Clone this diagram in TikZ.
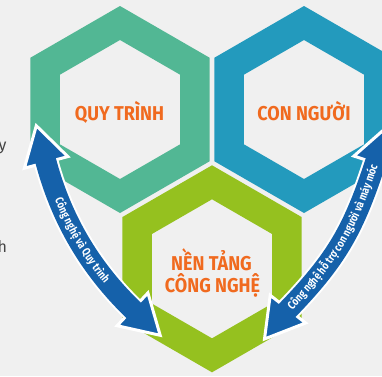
\documentclass[tikz,border=0pt]{standalone}
\usepackage{fontspec}
\setmainfont{Fira Sans}
\newfontfamily\labfont{Fira Sans}[FakeStretch=0.9]
\newfontfamily\arrfont{Fira Sans}[FakeStretch=0.8]
\usetikzlibrary{calc,decorations.text}
\definecolor{bgc}{HTML}{F0F0F0}
\definecolor{hgreen}{HTML}{52B794}
\definecolor{hblue}{HTML}{239ABD}
\definecolor{hlime}{HTML}{95C11F}
\definecolor{labor}{HTML}{F06A1F}
\definecolor{arrblue}{HTML}{1561AA}
\definecolor{sidegray}{HTML}{444444}
\tikzset{
  hexring/.pic={\fill[#1,even odd rule]
    (90:103.5)--(30:103.5)--(-30:103.5)--(-90:103.5)--(-150:103.5)--(150:103.5)--cycle
    (90:69.5)--(30:69.5)--(-30:69.5)--(-90:69.5)--(-150:69.5)--(150:69.5)--cycle;},
  lab/.style={text=labor, font=\labfont\bfseries\fontsize{20}{22}\selectfont, inner sep=0pt, anchor=base},
  shaftw/.style={draw=white, line width=25pt},
  shaftb/.style={draw=arrblue, line width=21pt},
  headst/.style={fill=arrblue, draw=white, line width=3pt, line join=miter},
  arrtext/.style={decorate, decoration={text along path,
    text={|\arrfont\bfseries\fontsize{11.5}{12}\selectfont|#1},
    text align=center, text color=white, raise=-3.4pt}},
  side/.style={text=sidegray, font=\fontsize{16}{18}\selectfont, inner sep=0pt, anchor=base west}
}
\newcommand\arrhead[2]{\fill[headst] (#1) -- ($(#2)!22.5pt!90:(#1)$) -- ($(#2)!22.5pt!-90:(#1)$) -- cycle;}
\begin{document}
\begin{tikzpicture}[x=1pt,y=-1pt]
\useasboundingbox (0,0) rectangle (382,376);
\clip (0,0) rectangle (382,376);
\fill[bgc] (0,0) rectangle (382,376);
% stray text at left edge
\node[side] (sy) at (-1.5,150) {y};
\node[side] (sh) at (-2.5,252) {h};
% hexagon rings
\pic at (120,109.5) {hexring=hgreen};
\pic at (304,109.5) {hexring=hblue};
\pic at (212,268.8) {hexring=hlime};
% labels
\node[lab] (qt) at (119.5,120) {QUY TRÌNH};
\node[lab] (cn) at (304,120) {CON NGƯỜI};
\node[lab] (nt1) at (211.5,270) {NỀN TẢNG};
\node[lab] (nt2) at (212.5,292) {CÔNG NGHỆ};
% left arrow: tips and base centres
\coordinate (LT) at (36.3,125.7);  \coordinate (LTb) at (46.1,162.4);
\coordinate (LB) at (160.2,335.3); \coordinate (LBb) at (132.5,309.3);
\coordinate (LS) at (45.1,158.5);  \coordinate (LE) at (135.4,312.0);
% right arrow
\coordinate (RB) at (264.5,339);   \coordinate (RBb) at (287.9,309.1);
\coordinate (RT) at (387,126.9);   \coordinate (RTb) at (375.3,163.0);
\coordinate (RS) at (285.4,312.3); \coordinate (RE) at (376.5,159.2);
% left arrow
\draw[shaftw] (LS) .. controls (60.5,218) and (90,269) .. (LE);
\arrhead{LT}{LTb}
\arrhead{LB}{LBb}
\draw[shaftb] (LS) .. controls (60.5,218) and (90,269) .. (LE);
\path[arrtext={Công nghệ và Quy trình}] (LS) .. controls (60.5,218) and (90,269) .. (LE);
% right arrow
\draw[shaftw] (RS) .. controls (336.9,259.4) and (353.7,229.6) .. (RE);
\arrhead{RB}{RBb}
\arrhead{RT}{RTb}
\draw[shaftb] (RS) .. controls (336.9,259.4) and (353.7,229.6) .. (RE);
\path[arrtext={Công nghệ hỗ trợ con người và máy móc}] (RS) .. controls (336.9,259.4) and (353.7,229.6) .. (RE);
\end{tikzpicture}
\end{document}
